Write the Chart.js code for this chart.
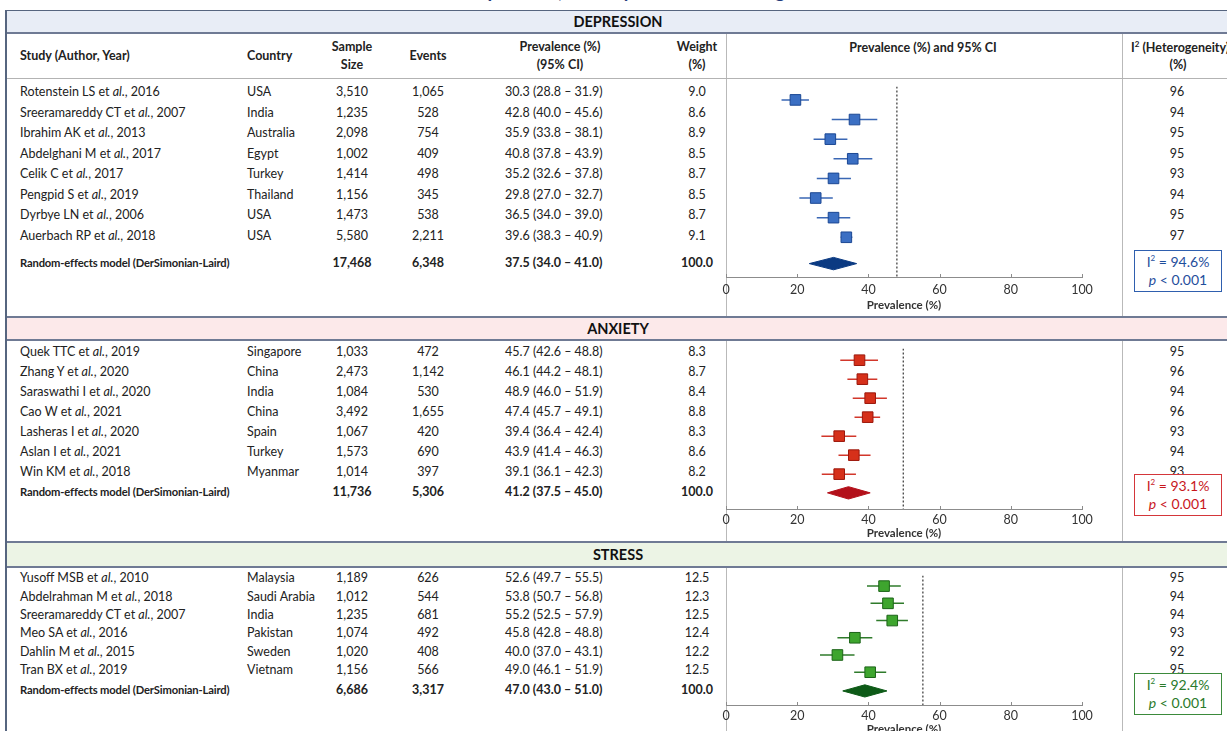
<!DOCTYPE html>
<html>
<head>
<meta charset="utf-8">
<script src="https://cdn.jsdelivr.net/npm/chart.js@4.4.1/dist/chart.umd.min.js"></script>
<style>
  body { margin: 0; width: 1227px; height: 731px; overflow: hidden; position: relative; background: #fff;
         font-family: Lato, "Open Sans", sans-serif; color: #222; }
  .t { position: absolute; white-space: nowrap; line-height: 1; font-size: 12.5px; }
  .hd { font-weight: bold; font-size: 12.5px; color: #222; }
  .band { font-weight: bold; font-size: 14.5px; color: #111; }
  .sum { font-weight: bold; }
  .sumlab { font-weight: bold; font-size: 11.2px; letter-spacing: -0.15px; }
  .ln { position: absolute; }
  .box { position: absolute; background: #fff; text-align: center; font-size: 14px; line-height: 18px; padding-top: 2px; box-sizing: border-box; }
</style>
</head>
<body>
<script>
const FONT = 'Lato, "Open Sans", sans-serif';

// ---- depression ----
const depStudies = ['Rotenstein LS et al., 2016', 'Sreeramareddy CT et al., 2007', 'Ibrahim AK et al., 2013', 'Abdelghani M et al., 2017',
  'Celik C et al., 2017', 'Pengpid S et al., 2019', 'Dyrbye LN et al., 2006', 'Auerbach RP et al., 2018'];
const depCountries = ['USA', 'India', 'Australia', 'Egypt', 'Turkey', 'Thailand', 'USA', 'USA'];
const depSample = [3510, 1235, 2098, 1002, 1414, 1156, 1473, 5580];
const depEvents = [1065, 528, 754, 409, 498, 345, 538, 2211];
const depPrev = [30.3, 42.8, 35.9, 40.8, 35.2, 29.8, 36.5, 39.6];
const depLow = [28.8, 40.0, 33.8, 37.8, 32.6, 27.0, 34.0, 38.3];
const depHigh = [31.9, 45.6, 38.1, 43.9, 37.8, 32.7, 39.0, 40.9];
const depWeight = [9.0, 8.6, 8.9, 8.5, 8.7, 8.5, 8.7, 9.1];
const depI2 = [96, 94, 95, 95, 93, 94, 95, 97];
const depTotal = [17468, 6348, 37.5, 34.0, 41.0, 100.0, 94.6]; // sample, events, prev, low, high, weight, I2
// marker positions as drawn in the plot column
const depPlotEst = [19.5, 36.1, 29.3, 35.6, 30.2, 25.2, 30.2, 33.8];
const depPlotLow = [15.6, 29.7, 24.6, 30.2, 25.5, 20.6, 25.5, 32.2];
const depPlotHigh = [23.3, 42.5, 34.1, 41.1, 35.1, 30.0, 34.9, 35.5];
const depPlotPooled = [23.4, 30.2, 36.7];
const depRef = 48.0;

// ---- anxiety ----
const anxStudies = ['Quek TTC et al., 2019', 'Zhang Y et al., 2020', 'Saraswathi I et al., 2020', 'Cao W et al., 2021',
  'Lasheras I et al., 2020', 'Aslan I et al., 2021', 'Win KM et al., 2018'];
const anxCountries = ['Singapore', 'China', 'India', 'China', 'Spain', 'Turkey', 'Myanmar'];
const anxSample = [1033, 2473, 1084, 3492, 1067, 1573, 1014];
const anxEvents = [472, 1142, 530, 1655, 420, 690, 397];
const anxPrev = [45.7, 46.1, 48.9, 47.4, 39.4, 43.9, 39.1];
const anxLow = [42.6, 44.2, 46.0, 45.7, 36.4, 41.4, 36.1];
const anxHigh = [48.8, 48.1, 51.9, 49.1, 42.4, 46.3, 42.3];
const anxWeight = [8.3, 8.7, 8.4, 8.8, 8.3, 8.6, 8.2];
const anxI2 = [95, 96, 94, 96, 93, 94, 93];
const anxTotal = [11736, 5306, 41.2, 37.5, 45.0, 100.0, 93.1];
const anxPlotEst = [37.5, 38.3, 40.5, 39.8, 31.8, 35.9, 31.8];
const anxPlotLow = [32.1, 34.1, 35.6, 36.1, 26.8, 31.6, 26.9];
const anxPlotHigh = [42.7, 42.5, 45.2, 43.3, 36.6, 40.6, 36.5];
const anxPlotPooled = [28.5, 34.4, 40.5];
const anxRef = 49.8;

// ---- stress ----
const strStudies = ['Yusoff MSB et al., 2010', 'Abdelrahman M et al., 2018', 'Sreeramareddy CT et al., 2007', 'Meo SA et al., 2016',
  'Dahlin M et al., 2015', 'Tran BX et al., 2019'];
const strCountries = ['Malaysia', 'Saudi Arabia', 'India', 'Pakistan', 'Sweden', 'Vietnam'];
const strSample = [1189, 1012, 1235, 1074, 1020, 1156];
const strEvents = [626, 544, 681, 492, 408, 566];
const strPrev = [52.6, 53.8, 55.2, 45.8, 40.0, 49.0];
const strLow = [49.7, 50.7, 52.5, 42.8, 37.0, 46.1];
const strHigh = [55.5, 56.8, 57.9, 48.8, 43.1, 51.9];
const strWeight = [12.5, 12.3, 12.5, 12.4, 12.2, 12.5];
const strI2 = [95, 94, 94, 93, 92, 95];
const strTotal = [6686, 3317, 47.0, 43.0, 51.0, 100.0, 92.4];
const strPlotEst = [44.4, 45.5, 46.7, 36.2, 31.3, 40.5];
const strPlotLow = [39.6, 40.6, 42.2, 31.3, 26.4, 36.0];
const strPlotHigh = [49.1, 50.0, 51.1, 41.1, 36.1, 45.0];
const strPlotPooled = [32.8, 39.0, 45.2];
const strRef = 55.3;

const xTicks = [0, 20, 40, 60, 80, 100];

// layout + colours for each block
const sections = [
  { name: 'DEPRESSION', bandTop: 11, bandBot: 33, rowsTop: 78, row0: 92, rowH: 20.5, sumY: 263, axisY: 277, axisH: 36, tickPad: 5, boxTop: 250,
    bandBg: '#e8edf6', fill: '#3b6fc3', edge: '#1c4894', whisker: '#3a67b4', diamond: '#0b3a82', boxCol: '#2f5fae', boxText: '#1f4e9c',
    studies: depStudies, countries: depCountries, sample: depSample, events: depEvents, prev: depPrev, low: depLow, high: depHigh,
    weight: depWeight, i2: depI2, total: depTotal, pEst: depPlotEst, pLow: depPlotLow, pHigh: depPlotHigh, pooled: depPlotPooled, ref: depRef },
  { name: 'ANXIETY', bandTop: 317, bandBot: 340, rowsTop: 340, row0: 352.3, rowH: 20, sumY: 492, axisY: 509, axisH: 32, tickPad: 3, boxTop: 474,
    bandBg: '#fce9ea', fill: '#d6301a', edge: '#9c180c', whisker: '#d2372b', diamond: '#b3101a', boxCol: '#d4363a', boxText: '#c8161c',
    studies: anxStudies, countries: anxCountries, sample: anxSample, events: anxEvents, prev: anxPrev, low: anxLow, high: anxHigh,
    weight: anxWeight, i2: anxI2, total: anxTotal, pEst: anxPlotEst, pLow: anxPlotLow, pHigh: anxPlotHigh, pooled: anxPlotPooled, ref: anxRef },
  { name: 'STRESS', bandTop: 542, bandBot: 567, rowsTop: 567, row0: 578.3, rowH: 18.35, sumY: 690, axisY: 705, axisH: 32, tickPad: 3, boxTop: 673,
    bandBg: '#ecf4e5', fill: '#3ea52e', edge: '#1c6418', whisker: '#2f7b2b', diamond: '#0d5a17', boxCol: '#3b8a3b', boxText: '#2a7a2a',
    studies: strStudies, countries: strCountries, sample: strSample, events: strEvents, prev: strPrev, low: strLow, high: strHigh,
    weight: strWeight, i2: strI2, total: strTotal, pEst: strPlotEst, pLow: strPlotLow, pHigh: strPlotHigh, pooled: strPlotPooled, ref: strRef }
];

function put(x, y, html, cls, align) {
  const d = document.createElement('div');
  d.className = 't ' + (cls || '');
  d.innerHTML = html;
  d.style.left = x + 'px';
  d.style.top = y + 'px';
  d.style.transform = align === 'c' ? 'translate(-50%,-50%)' : 'translateY(-50%)';
  document.body.appendChild(d);
  return d;
}
function line(x, y, w, h, color) {
  const d = document.createElement('div');
  d.className = 'ln';
  d.style.cssText += `left:${x}px;top:${y}px;width:${w}px;height:${h}px;background:${color};`;
  document.body.appendChild(d);
}
const fmtN = v => v.toLocaleString('en-US');
const fmtCI = (p, l, h) => `${p.toFixed(1)} (${l.toFixed(1)} – ${h.toFixed(1)})`;
const study = s => s.replace('et al.', 'et <i>al.</i>');

// title (cut off at the top edge)
const title = put(640, 0, 'Prevalence of Depression, Anxiety and Stress among Medical Students', 'c', 'c');
title.style.cssText += 'font-size:19px;font-weight:bold;color:#1f3a7a;top:-10px;';

// upward tick marks on the x axis
const tickMarks = {
  id: 'tickMarks',
  afterDraw(chart) {
    const sx = chart.scales.x, ctx = chart.ctx;
    ctx.save();
    ctx.strokeStyle = '#8c8c8c';
    ctx.lineWidth = 1;
    sx.ticks.forEach(t => {
      const px = Math.round(sx.getPixelForValue(t.value)) + 0.5;
      ctx.beginPath();
      ctx.moveTo(px, sx.top - 3);
      ctx.lineTo(px, sx.top + 1);
      ctx.stroke();
    });
    ctx.restore();
  }
};

function drawChart(sec) {
  const c = document.createElement('canvas');
  const h = sec.axisY - sec.rowsTop + sec.axisH;
  c.width = 410;
  c.height = h;
  c.style.cssText = `position:absolute;left:700px;top:${sec.rowsTop}px;`;
  document.body.appendChild(c);

  const yMin = (sec.rowsTop - sec.row0) / sec.rowH;
  const yMax = (sec.axisY - sec.row0) / sec.rowH;
  const ySum = (sec.sumY - sec.row0) / sec.rowH;
  const hh = 6.5 / sec.rowH;
  const pd = sec.pooled;

  const datasets = [];
  datasets.push({
    type: 'scatter', data: sec.pEst.map((v, k) => ({ x: v, y: k })),
    pointStyle: 'rect', pointRadius: 7.5, pointHoverRadius: 7.5,
    backgroundColor: sec.fill, borderColor: sec.edge, borderWidth: 1
  });
  datasets.push({
    type: 'line', showLine: true, fill: 'shape', tension: 0, pointRadius: 0,
    data: [{ x: pd[0], y: ySum }, { x: pd[1], y: ySum - hh }, { x: pd[2], y: ySum }, { x: pd[1], y: ySum + hh }, { x: pd[0], y: ySum }],
    backgroundColor: sec.diamond, borderColor: sec.diamond, borderWidth: 1
  });
  sec.pLow.forEach((l, k) => {
    datasets.push({
      type: 'line', showLine: true, pointRadius: 0, fill: false,
      data: [{ x: l, y: k }, { x: sec.pHigh[k], y: k }],
      borderColor: sec.whisker, borderWidth: 1.5
    });
  });
  datasets.push({
    type: 'line', showLine: true, pointRadius: 0, fill: false,
    data: [{ x: sec.ref, y: yMin }, { x: sec.ref, y: yMax }],
    borderColor: '#444', borderWidth: 1.3, borderDash: [2, 2]
  });

  new Chart(c, {
    type: 'scatter',
    data: { datasets },
    options: {
      responsive: false,
      animation: false,
      events: [],
      layout: { padding: { left: 26, right: 28, top: 0, bottom: 0 } },
      plugins: { legend: { display: false }, tooltip: { enabled: false }, title: { display: false } },
      scales: {
        x: {
          type: 'linear', min: 0, max: 100, position: 'bottom',
          afterBuildTicks: s => { s.ticks = xTicks.map(v => ({ value: v })); },
          ticks: { padding: sec.tickPad, color: '#333', maxRotation: 0, font: { family: FONT, size: 12.5 } },
          grid: { display: false, drawTicks: false },
          border: { display: true, color: '#8c8c8c', width: 1 },
          title: { display: true, text: 'Prevalence (%)', color: '#333', font: { family: FONT, size: 11.5, weight: 'bold' }, padding: { top: 0, bottom: 1 } },
          afterFit: s => { s.height = sec.axisH; }
        },
        y: { type: 'linear', display: false, reverse: true, min: yMin, max: yMax }
      }
    },
    plugins: [tickMarks]
  });
}

// frame
line(5, 10, 1222, 1.5, '#56657f');
line(5, 10, 1.5, 721, '#56657f');

sections.forEach((sec, si) => {
  // band
  const b = document.createElement('div');
  b.className = 'ln';
  b.style.cssText += `left:6.5px;top:${sec.bandTop}px;width:1221px;height:${sec.bandBot - sec.bandTop}px;background:${sec.bandBg};`;
  document.body.appendChild(b);
  if (si > 0) line(6.5, sec.bandTop - 1, 1221, 1.5, '#6f7a94');
  line(6.5, sec.bandBot - 1, 1221, 1.5, '#6f7a94');
  put(618, (sec.bandTop + sec.bandBot) / 2, sec.name, 'band', 'c');

  // column dividers
  const vTop = sec.bandBot + 0.5;
  const vBot = (si < sections.length - 1 ? sections[si + 1].bandTop - 1 : 731);
  line(726, vTop, 1, vBot - vTop, '#b9b9b9');
  line(1122, vTop, 1, vBot - vTop, '#b9b9b9');

  // rows
  sec.studies.forEach((s, k) => {
    const y = sec.row0 + k * sec.rowH;
    put(20, y, study(s));
    put(247, y, sec.countries[k]);
    put(352, y, fmtN(sec.sample[k]), '', 'c');
    put(428, y, fmtN(sec.events[k]), '', 'c');
    put(505, y, fmtCI(sec.prev[k], sec.low[k], sec.high[k]));
    put(697, y, sec.weight[k].toFixed(1), '', 'c');
    put(1177, y, String(sec.i2[k]), '', 'c');
  });
  const tt = sec.total;
  put(20, sec.sumY, 'Random-effects model (DerSimonian-Laird)', 'sumlab');
  put(352, sec.sumY, fmtN(tt[0]), 'sum', 'c');
  put(428, sec.sumY, fmtN(tt[1]), 'sum', 'c');
  put(505, sec.sumY, fmtCI(tt[2], tt[3], tt[4]), 'sum');
  put(697, sec.sumY, tt[5].toFixed(1), 'sum', 'c');

  drawChart(sec);

  // heterogeneity box
  const bx = document.createElement('div');
  bx.className = 'box';
  bx.style.cssText += `left:1134px;top:${sec.boxTop}px;width:88px;height:42px;border:1.2px solid ${sec.boxCol};color:${sec.boxText};`;
  bx.innerHTML = `I<sup style="font-size:8px;line-height:0">2</sup> = ${tt[6].toFixed(1)}%<br><i>p</i> &lt; 0.001`;
  document.body.appendChild(bx);
});

// header row (first block only)
line(6.5, 77.5, 1221, 1, '#b3b3b3');
put(20, 56, 'Study (Author, Year)', 'hd');
put(247, 56, 'Country', 'hd');
put(352, 47, 'Sample', 'hd', 'c');
put(352, 65, 'Size', 'hd', 'c');
put(428, 56, 'Events', 'hd', 'c');
put(560, 47, 'Prevalence (%)', 'hd', 'c');
put(560, 65, '(95% CI)', 'hd', 'c');
put(697, 47, 'Weight', 'hd', 'c');
put(697, 65, '(%)', 'hd', 'c');
put(923, 48, 'Prevalence (%) and 95% CI', 'hd', 'c');
put(1131, 48, 'I<sup style="font-size:8px;line-height:0">2</sup> (Heterogeneity)', 'hd');
put(1178, 65, '(%)', 'hd', 'c');
</script>
</body>
</html>
